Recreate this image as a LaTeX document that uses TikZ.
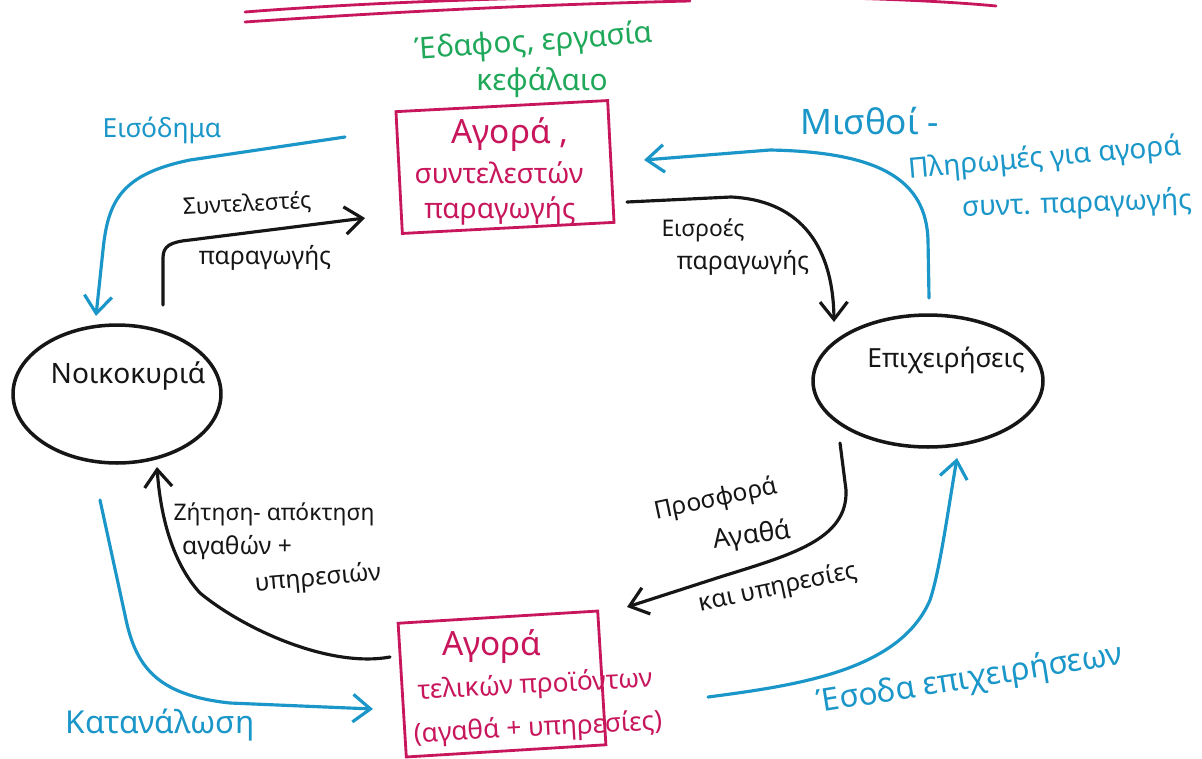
\documentclass[tikz,border=0pt]{standalone}
\usepackage{fontspec}
\setmainfont{Noto Sans}
\usetikzlibrary{arrows.meta,shapes.geometric}
\definecolor{mag}{RGB}{200,22,92}
\definecolor{grn}{RGB}{32,168,90}
\definecolor{blu}{RGB}{26,150,200}
\definecolor{ink}{RGB}{22,22,22}
\newcommand\fsz[1]{\fontsize{#1}{#1}\selectfont}
\tikzset{
  conn/.style={line width=1.8pt, line cap=round, line join=round,
    -{Straight Barb[length=3.5mm,width=5.5mm]}},
  blackconn/.style={conn, draw=ink},
  blueconn/.style={conn, draw=blu},
  mktbox/.style={draw=mag, line width=1.6pt, rectangle, inner sep=0pt},
  agent/.style={draw=ink, line width=2pt, ellipse, inner sep=0pt},
  lbl/.style={inner sep=0pt, text=ink},
  bluelbl/.style={inner sep=0pt, text=blu},
  maglbl/.style={inner sep=0pt, text=mag},
  grnlbl/.style={inner sep=0pt, text=grn},
}
\begin{document}
\begin{tikzpicture}[x=0.02cm,y=-0.02cm]
\useasboundingbox (0,0) rectangle (1202,758);
\fill[white] (0,0) rectangle (1202,758);
\begin{scope}
\clip (0,0) rectangle (1202,758);
% top decorative lines
\draw[mag, line width=1.6pt, line cap=round] (245,12) .. controls (500,-8) and (850,-8) .. (996,6);
\draw[mag, line width=1.6pt, line cap=round] (245,22) .. controls (420,10) and (560,4) .. (690,1);

% green label
\node[grnlbl, font=\fsz{17}, rotate=4] (inputs1) at (534,43) {Έδαφος, εργασία};
\node[grnlbl, font=\fsz{17}] (inputs2) at (542,82) {κεφάλαιο};

% market boxes
\node[mktbox, minimum width=4.24cm, minimum height=2.44cm, rotate=3] (fmkt) at (505,167) {};
\node[maglbl, font=\fsz{19}] (fmkt1) at (510,135) {Αγορά ,};
\node[maglbl, font=\fsz{16}] (fmkt2) at (499,173) {συντελεστών};
\node[maglbl, font=\fsz{16}] (fmkt3) at (500,211) {παραγωγής};

\node[mktbox, minimum width=4.0cm, minimum height=2.68cm, rotate=3.5] (gmkt) at (502,684) {};
\node[maglbl, font=\fsz{19}] (gmkt1) at (492,647) {Αγορά};
\node[maglbl, font=\fsz{15}, rotate=3] (gmkt2) at (535,686) {τελικών προϊόντων};
\node[maglbl, font=\fsz{15}, rotate=3] (gmkt3) at (538,729) {(αγαθά + υπηρεσίες)};

% agents
\node[agent, minimum width=4.16cm, minimum height=2.76cm] (hh) at (117,394) {};
\node[lbl, font=\fsz{16}] (hhtxt) at (128,376) {Νοικοκυριά};
\node[agent, minimum width=4.6cm, minimum height=2.64cm] (firms) at (928,381) {};
\node[lbl, font=\fsz{15}] (firmstxt) at (946,360) {Επιχειρήσεις};

% coordinates for connector ends
\coordinate (incS) at (345,137);
\coordinate (incE) at (96,316);
\coordinate (facS) at (163,305);
\coordinate (facE) at (365,218);
\coordinate (inpS) at (627,202);
\coordinate (inpE) at (834,322);
\coordinate (wagS) at (929,298);
\coordinate (wagE) at (644,160);
\coordinate (supS) at (840,443);
\coordinate (supE) at (627,607);
\coordinate (demS) at (390,657);
\coordinate (demE) at (157,467);
\coordinate (conS) at (100,500);
\coordinate (conE) at (373,709);
\coordinate (revS) at (708,697);
\coordinate (revE) at (957,458);

% connectors
\draw[blueconn] (incS) -- (190,160) .. controls (122,174) and (108,200) .. (103,250) -- (incE);
\draw[blackconn] (facS) -- (163,258) .. controls (163,246) and (170,242) .. (190,240) -- (facE);
\draw[blackconn] (inpS) -- (731,197) .. controls (795,200) and (833,240) .. (inpE);
\draw[blueconn] (wagS) -- (928,240) .. controls (926,180) and (880,152) .. (770,150) -- (wagE);
\draw[blackconn] (supS) -- (846,490) .. controls (848,540) and (790,555) .. (720,577) -- (supE);
\draw[blackconn] (demS) .. controls (330,668) and (245,630) .. (200,593) .. controls (170,560) and (160,510) .. (demE);
\draw[blueconn] (conS) -- (125,615) .. controls (135,665) and (155,695) .. (230,703) -- (conE);
\draw[blueconn] (revS) .. controls (800,685) and (900,670) .. (930,600) .. controls (940,570) and (948,510) .. (revE);

% labels
\node[bluelbl, font=\fsz{15}] (incL) at (162,130) {Εισόδημα};
\node[lbl, font=\fsz{13}, rotate=3] (facL1) at (247,205) {Συντελεστές};
\node[lbl, font=\fsz{14}] (facL2) at (265,258) {παραγωγής};
\node[lbl, font=\fsz{13}] (inpL1) at (703,230) {Εισροές};
\node[lbl, font=\fsz{14}] (inpL2) at (743,263) {παραγωγής};
\node[bluelbl, font=\fsz{20}] (wagL1) at (870,121) {Μισθοί -};
\node[bluelbl, font=\fsz{16}, rotate=5] (wagL2) at (1045,159) {Πληρωμές για αγορά};
\node[bluelbl, font=\fsz{16}, rotate=2] (wagL3) at (1077,205) {συντ. παραγωγής};
\node[lbl, font=\fsz{14}, rotate=12] (supL1) at (716,500) {Προσφορά};
\node[lbl, font=\fsz{15}, rotate=8] (supL2) at (752,536) {Αγαθά};
\node[lbl, font=\fsz{14}, rotate=12] (supL3) at (778,588) {και υπηρεσίες};
\node[lbl, font=\fsz{13}] (demL1) at (274,514) {Ζήτηση- απόκτηση};
\node[lbl, font=\fsz{14}] (demL2) at (237,548) {αγαθών +};
\node[lbl, font=\fsz{14}, rotate=5] (demL3) at (318,579) {υπηρεσιών};
\node[bluelbl, font=\fsz{18}] (conL) at (160,725) {Κατανάλωση};
\node[bluelbl, font=\fsz{18}, rotate=9] (revL) at (970,680) {Έσοδα επιχειρήσεων};
\end{scope}
\end{tikzpicture}
\end{document}
